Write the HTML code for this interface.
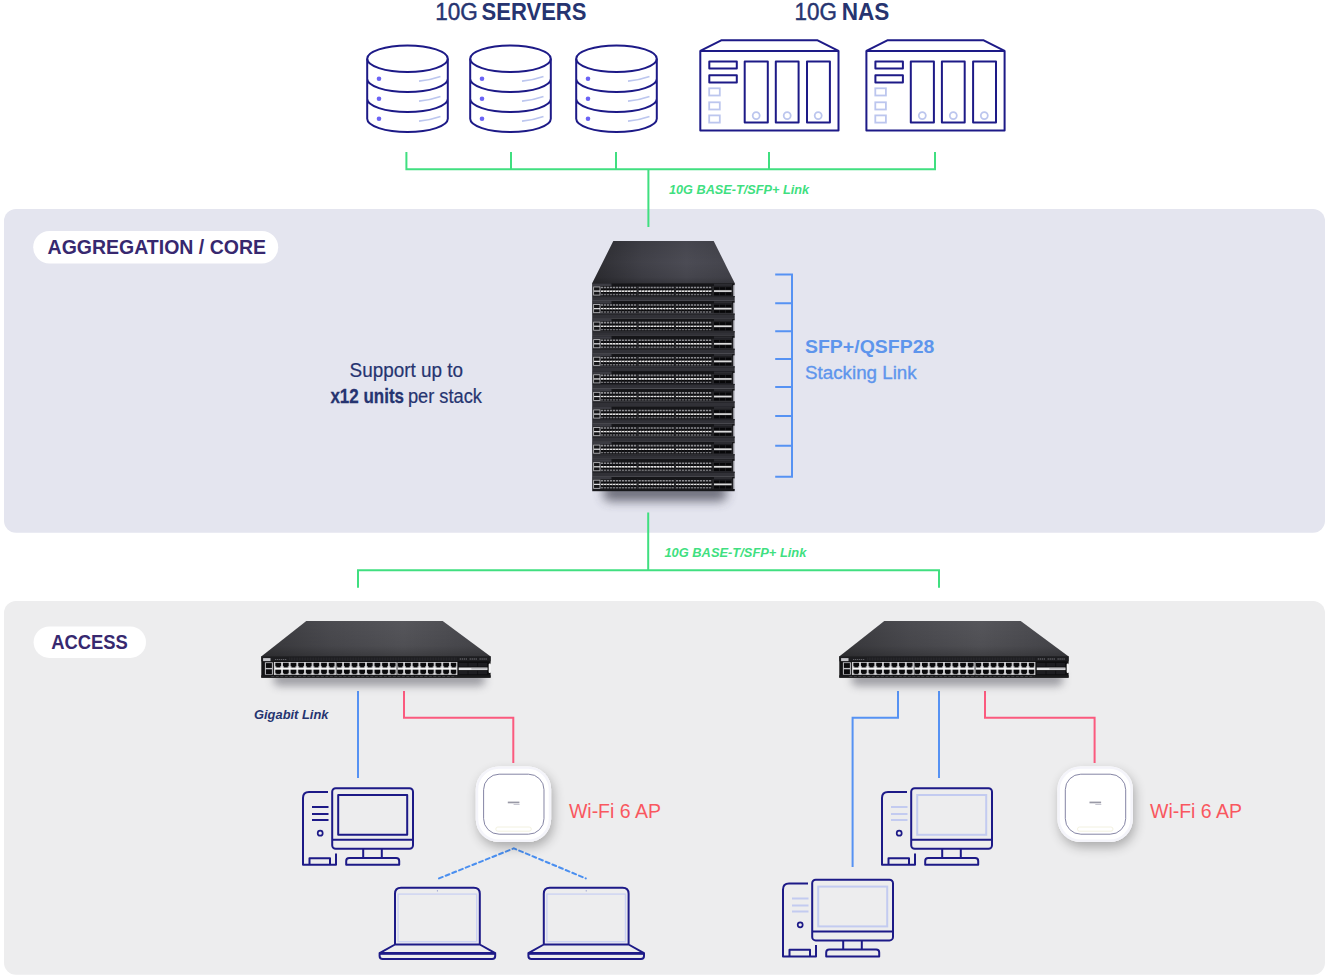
<!DOCTYPE html>
<html>
<head>
<meta charset="utf-8">
<title>Network topology</title>
<style>
  html, body { margin: 0; padding: 0; background: #ffffff; }
  body { width: 1330px; height: 980px; overflow: hidden; position: relative;
         font-family: "Liberation Sans", sans-serif; }
  svg { position: absolute; left: 0; top: 0; display: block; }
  text { font-family: "Liberation Sans", sans-serif; }
  .navy { fill: #263470; }
  .purple { fill: #37286f; }
  .med { stroke: #263470; stroke-width: 0.45; }
  .med2 { stroke: #263470; stroke-width: 0.2; }
  .green { fill: #40df80; }
  .blue { fill: #5e95ec; }
  .red { fill: #f9575f; }
  .ln { fill: none; stroke: #1d1a87; stroke-width: 2; stroke-linejoin: round; stroke-linecap: butt; }
  .lt { fill: none; stroke: #bcc6ee; stroke-width: 1.8; }
  .g { fill: none; stroke: #40df80; stroke-width: 2; }
  .b { fill: none; stroke: #5692f3; stroke-width: 2; }
  .r { fill: none; stroke: #fb5a7e; stroke-width: 2; }
</style>
</head>
<body>
<svg width="1330" height="980" viewBox="0 0 1330 980">
<defs>

<!-- server cylinder: origin at centre x, absolute y -->
<g id="srv">
  <ellipse class="ln" cx="0" cy="58.75" rx="40.3" ry="13.2"/>
  <path class="ln" d="M-40.3,58.75 V118.75 M40.3,58.75 V118.75
    M-40.3,78.75 A40.3 13.2 0 0 0 40.3,78.75
    M-40.3,98.75 A40.3 13.2 0 0 0 40.3,98.75
    M-40.3,118.75 A40.3 13.2 0 0 0 40.3,118.75"/>
  <circle cx="-28.5" cy="78.7" r="2.3" fill="#6b63f5"/>
  <circle cx="-28.5" cy="98.7" r="2.3" fill="#6b63f5"/>
  <circle cx="-28.5" cy="118.7" r="2.3" fill="#6b63f5"/>
  <path class="lt" d="M11.5,81.2 Q23,80 33,76.5 M11.5,101.2 Q23,100 33,96.5 M11.5,121.2 Q23,120 33,116.5"/>
</g>

<!-- NAS: origin at outer-left x, absolute y -->
<g id="nas">
  <path class="ln" d="M0.3,50.9 L21.2,40.3 H117.6 L138.5,50.9"/>
  <rect class="ln" x="0.3" y="50.9" width="138.2" height="79.5"/>
  <rect class="ln" x="9.3" y="61.4" width="27.5" height="7"/>
  <rect class="ln" x="9.3" y="75.2" width="27.5" height="7.3"/>
  <rect class="lt" x="9.2" y="88.3" width="10.6" height="7.2"/>
  <rect class="lt" x="9.2" y="102.3" width="10.6" height="7.2"/>
  <rect class="lt" x="9.2" y="115.4" width="10.6" height="7.2"/>
  <rect class="ln" x="44.7" y="61.4" width="23.1" height="61.1"/>
  <rect class="ln" x="75.8" y="61.4" width="22.8" height="61.1"/>
  <rect class="ln" x="107" y="61.4" width="22.9" height="61.1"/>
  <circle class="lt" cx="56.2" cy="115.6" r="3.5"/>
  <circle class="lt" cx="87.2" cy="115.6" r="3.5"/>
  <circle class="lt" cx="118.2" cy="115.6" r="3.5"/>
</g>

<!-- PC body (shared), origin at tower outer-left / monitor outer-top -->
<g id="pcbody">
  <rect class="ln" x="30.2" y="1" width="80.8" height="60.6" rx="3.5"/>
  <path class="ln" d="M30.2,52.6 H111 M61.2,61.6 V70.8 M79.8,61.6 V70.8
    M44.2,77.6 V73.8 Q44.2,70.8 47.2,70.8 H94.2 Q97.2,70.8 97.2,73.8 V77.6 Z
    M26,4.8 H7 Q1,4.8 1,10.8 V77.6 H34 V66.3
    M7.5,77.6 V71 H28 V77.6"/>
  <circle cx="18.2" cy="46" r="2.5" fill="none" stroke="#1d1a87" stroke-width="1.7"/>
</g>
<g id="pcdark">
  <use href="#pcbody"/>
  <rect class="ln" x="36.2" y="7.8" width="69" height="39.8"/>
  <path class="ln" d="M10,19.8 H26.5 M10,26.8 H26.5 M10,32.8 H26.5"/>
</g>
<g id="pclight">
  <use href="#pcbody"/>
  <rect x="36.2" y="7.8" width="69" height="39.8" fill="none" stroke="#c3cbf0" stroke-width="2"/>
  <path d="M10,19.8 H26.5 M10,26.8 H26.5 M10,32.8 H26.5" fill="none" stroke="#c3cbf0" stroke-width="2"/>
</g>

<!-- laptop: origin at screen outer top-left -->
<g id="lap">
  <rect x="4.1" y="7.3" width="78.6" height="47.6" fill="none" stroke="#ccd2f2" stroke-width="1.4"/>
  <path class="ln" d="M1,57.7 V7 Q1,1 7,1 H79.8 Q85.8,1 85.8,7 V57.7
    M1,57.7 H85.8 L101.2,66.4 H-14.4 Z
    M-14.4,66.4 V69.2 Q-14.4,72.2 -11.4,72.2 H98.2 Q101.2,72.2 101.2,69.2 V66.4"/>
  <path d="M-14.4,66.6 H101.2" stroke="#1d1a87" stroke-width="2.6"/>
  <circle cx="43.4" cy="4" r="0.6" fill="#8088c8"/>
</g>

<!-- AP: origin at outer top-left, 75x75 -->
<filter id="apsh" x="-40%" y="-40%" width="180%" height="190%">
  <feGaussianBlur in="SourceAlpha" stdDeviation="6"/>
  <feOffset dx="1.5" dy="4.5" result="o"/>
  <feComponentTransfer><feFuncA type="linear" slope="0.29"/></feComponentTransfer>
  <feMerge><feMergeNode/><feMergeNode in="SourceGraphic"/></feMerge>
</filter>
<g id="ap">
  <rect x="0" y="0" width="75.3" height="75.6" rx="23" fill="#ffffff" filter="url(#apsh)"/>
  <rect x="1.2" y="1.2" width="72.9" height="73.2" rx="22" fill="none" stroke="#f4f4fa" stroke-width="2.4"/>
  <rect x="7.8" y="7.8" width="60.4" height="60" rx="15.5" fill="#ffffff" stroke="#77779a" stroke-width="0.9"/>
  <rect x="32" y="35.2" width="11.6" height="1.7" fill="#55556a" opacity="0.6"/>
  <rect x="37.8" y="37.6" width="6" height="0.8" fill="#8a8aa0" opacity="0.6"/>
  <rect x="20" y="60.6" width="35.5" height="4.2" rx="2.1" fill="none" stroke="#f1efdc" stroke-width="0.9"/>
</g>

<!-- ===== stacked core switch ===== -->
<linearGradient id="stTopX" x1="0" x2="1" y1="0" y2="0">
  <stop offset="0" stop-color="#2e2e33"/><stop offset="0.35" stop-color="#42424a"/>
  <stop offset="0.66" stop-color="#4d4d56"/><stop offset="1" stop-color="#45454d"/>
</linearGradient>
<linearGradient id="stTopY" x1="0" x2="0" y1="0" y2="1">
  <stop offset="0" stop-color="#000" stop-opacity="0.10"/><stop offset="0.5" stop-color="#000" stop-opacity="0.02"/><stop offset="0.85" stop-color="#000" stop-opacity="0.10"/>
  <stop offset="1" stop-color="#000" stop-opacity="0.26"/>
</linearGradient>
<filter id="blur5" x="-30%" y="-200%" width="160%" height="500%"><feGaussianBlur stdDeviation="5.5"/></filter>
<filter id="blur4" x="-30%" y="-200%" width="160%" height="500%"><feGaussianBlur stdDeviation="4"/></filter>
<!-- one stack unit: y=0 is the bright port line; x absolute -->
<g id="lip">
  <rect x="592.2" y="5" width="142.5" height="4.7" fill="#313137"/>
  <rect x="592.2" y="5" width="142.5" height="1.1" fill="#232327"/>
</g>
<g id="unit">
  <rect x="592.2" y="-8" width="142.5" height="13.1" fill="#151518"/>
  <rect x="593" y="-7.6" width="18.5" height="2.6" fill="#3b3b42"/>
  <rect x="714" y="-7.4" width="18" height="2.2" fill="#2c2c31"/>
  <!-- mgmt port -->
  <rect x="593.6" y="-4.2" width="6.4" height="8.2" fill="none" stroke="#b9b9bd" stroke-width="0.9"/>
  <path d="M594,0 H600" stroke="#e6e6e8" stroke-width="1.2"/>
  <!-- upper / lower grey cage rows -->
  <path d="M601,-3.6 H637 M638.6,-3.6 H674.4 M676,-3.6 H712" stroke="#8c8c90" stroke-width="1.6" stroke-dasharray="2.2 0.8"/>
  <path d="M601,3.4 H637 M638.6,3.4 H674.4 M676,3.4 H712" stroke="#707074" stroke-width="1.4" stroke-dasharray="2.2 0.8"/>
  <!-- bright centre line -->
  <path d="M601,0 H637 M638.6,0 H674.4 M676,0 H712" stroke="#e4e3e3" stroke-width="1.7" stroke-dasharray="2.5 0.5"/>
  <path d="M601,-1.5 H637 M638.6,-1.5 H674.4 M676,-1.5 H712 M601,1.5 H637 M638.6,1.5 H674.4 M676,1.5 H712" stroke="#050506" stroke-width="1.1" stroke-dasharray="1.6 1.4"/>
    <rect x="713.6" y="-5" width="19" height="9.6" fill="#222226"/><path d="M714,-2.6 H731.6 M714,2.8 H731.6" stroke="#070709" stroke-width="2.6" stroke-dasharray="5.2 0.8"/><rect x="733.4" y="-6" width="1.4" height="11" fill="#dcdce6"/>
  <path d="M714,0 H731.6" stroke="#dcdcdc" stroke-width="1.7"/>
  <path d="M637.8,-5 V5 M675.2,-5 V5 M713,-5 V5" stroke="#3a3a3e" stroke-width="0.8"/>
</g>

<!-- ===== 1U access switch, origin = left/top of bounding box ===== -->
<linearGradient id="swTopX" x1="0" x2="1" y1="0" y2="0">
  <stop offset="0" stop-color="#3b3b3f"/><stop offset="0.3" stop-color="#4b4b50"/>
  <stop offset="0.62" stop-color="#56565b"/><stop offset="1" stop-color="#47474c"/>
</linearGradient>
<linearGradient id="swTopY" x1="0" x2="0" y1="0" y2="1">
  <stop offset="0" stop-color="#000" stop-opacity="0"/><stop offset="0.7" stop-color="#000" stop-opacity="0.08"/>
  <stop offset="1" stop-color="#000" stop-opacity="0.27"/>
</linearGradient>
<pattern id="rj" x="13.1" y="40.9" width="7.63" height="12.9" patternUnits="userSpaceOnUse">
  <rect width="7.63" height="12.9" fill="#d4d4d7"/>
  <rect x="0" y="5.5" width="7.63" height="2" fill="#fafafa"/>
  <path d="M0.9,0.7 H6.75 V4 H6.1 V5.4 H1.55 V4 H0.9 Z" fill="#09090b"/>
  <path d="M0.9,7.6 H6.75 V10.9 H6.1 V12.2 H1.55 V10.9 H0.9 Z" fill="#09090b"/>
</pattern>
<g id="sw">
  <rect x="12" y="51" width="212" height="14" rx="6" fill="#50505a" opacity="0.5" filter="url(#blur4)"/>
  <polygon points="45,0 181.4,0 229.3,35.4 0,35.4" fill="url(#swTopX)"/>
  <polygon points="45,0 181.4,0 229.3,35.4 0,35.4" fill="url(#swTopY)"/>
  <rect x="0" y="35.2" width="229.3" height="21.4" fill="#131315"/>
  <rect x="0" y="35.2" width="229.3" height="5" fill="#1d1d20"/>
  <path d="M28,37.8 H196" stroke="#2b2b2f" stroke-width="3" stroke-dasharray="0.8 0.8"/>
  <rect x="1.8" y="37" width="7.4" height="3" fill="#c6c6ca"/>
  <path d="M14,38.4 H25" stroke="#8b8b90" stroke-width="0.9" stroke-dasharray="0.9 1.1"/>
  <!-- mgmt ports -->
  <rect x="3.6" y="41.2" width="8" height="12.4" fill="#bfbfc3"/>
  <rect x="4.6" y="42" width="6" height="4.8" fill="#0b0b0d"/><rect x="4.6" y="48.2" width="6" height="4.8" fill="#0b0b0d"/>
  <!-- 3 x 16 RJ45 -->
  <rect x="13.1" y="40.9" width="61.2" height="12.9" fill="url(#rj)"/>
  <rect x="75.2" y="40.9" width="59.8" height="12.9" fill="url(#rj)"/>
  <rect x="136.3" y="40.9" width="59.4" height="12.9" fill="url(#rj)"/>
  <path d="M13.1,40.9 V53.8 M74.5,40.9 V53.8 M135.6,40.9 V53.8 M195.6,40.9 V53.8" stroke="#d8d8da" stroke-width="1"/>
  <!-- SFP block -->
  <rect x="196.6" y="40.6" width="30.4" height="13.6" fill="#0e0e10"/>
  <path d="M197.4,43.6 H226.4 M197.4,51.4 H226.4" stroke="#1d1d21" stroke-width="3.6" stroke-dasharray="8.9 0.8"/>
  <rect x="197.4" y="46.4" width="28.8" height="2.6" fill="#e6e6e8"/><rect x="210" y="47.1" width="15.5" height="1.2" fill="#9a9a9e" opacity="0.7"/>
  <path d="M198.4,38 H226" stroke="#5a5a60" stroke-width="1.5" stroke-dasharray="1.3 0.7 1.3 0.7 1.3 0.7 1.3 2.6"/>
  <rect x="227.4" y="42.5" width="2.3" height="9.5" rx="1" fill="#f4f4f5"/>
  <rect x="0" y="54.2" width="229.3" height="2.4" fill="#1a1a1c"/>
  <path d="M10,55.4 H195" stroke="#45454a" stroke-width="0.8" stroke-dasharray="3 1.5"/>
</g>
<!--DEFS-->
</defs>

<!-- panels -->
<rect x="4" y="209" width="1321" height="323.7" rx="12" fill="#e4e5ef"/>
<rect x="4" y="601" width="1321" height="373.8" rx="12" fill="#ededee"/>

<!-- pills -->
<rect x="33.2" y="230.9" width="245" height="32.5" rx="16.25" fill="#ffffff"/>
<rect x="33.6" y="626.4" width="112.4" height="31.6" rx="15.8" fill="#ffffff"/>

<!-- green links -->
<path class="g" d="M406.4,152 V169.3 H935 V152 M511,152 V169.3 M616,152 V169.3 M769,152 V169.3 M648.4,169.3 V227"/>
<path class="g" d="M648.2,512.4 V570.3 M358,587.8 V570.3 H939 V587.8"/>

<!-- stacking bracket -->
<path class="b" d="M775.2,274.5 H792 V476.7 H775.2 M775.2,303.3 H792 M775.2,331.2 H792 M775.2,359.1 H792 M775.2,387 H792 M775.2,415.9 H792 M775.2,445.8 H792"/>

<!-- access links -->
<path class="b" d="M358,691 V778"/>
<path class="r" d="M404,691 V717.7 H513.3 V763"/>
<path class="b" d="M898,691 V717.7 H852.6 V867"/>
<path class="b" d="M939,691 V778"/>
<path class="r" d="M985,691 V717.7 H1094.6 V763"/>
<path d="M439,878.4 L513.8,848.4 L585.8,878.4" stroke-linecap="round" fill="none" stroke="#4a8ff0" stroke-width="2" stroke-dasharray="4 3.2"/>


<!-- servers -->
<use href="#srv" x="407.5"/>
<use href="#srv" x="510.5"/>
<use href="#srv" x="616.5"/>
<!-- NAS -->
<use href="#nas" x="700"/>
<use href="#nas" x="866.1"/>
<!-- PCs -->
<use href="#pcdark" x="302" y="787.2"/>
<use href="#pclight" x="881" y="787.2"/>
<use href="#pclight" x="782" y="878.8"/>
<!-- laptops -->
<use href="#lap" x="394" y="886.8"/>
<use href="#lap" x="542.8" y="886.8"/>
<!-- APs -->
<use href="#ap" x="475.8" y="766.4"/>
<use href="#ap" x="1057.5" y="766.4"/>

<!-- core stack -->
<rect x="603" y="484" width="124" height="17" rx="7" fill="#3c3c4c" opacity="0.72" filter="url(#blur5)"/>
<polygon points="613.3,241 713.7,241 734.9,283.6 592.1,283.6" fill="url(#stTopX)"/>
<polygon points="613.3,241 713.7,241 734.9,283.6 592.1,283.6" fill="url(#stTopY)"/>
<g>
  <use href="#unit" y="291.1"/><use href="#unit" y="308.67"/><use href="#unit" y="326.24"/>
  <use href="#unit" y="343.81"/><use href="#unit" y="361.38"/><use href="#unit" y="378.95"/>
  <use href="#unit" y="396.52"/><use href="#unit" y="414.09"/><use href="#unit" y="431.66"/>
  <use href="#unit" y="449.23"/><use href="#unit" y="466.8"/><use href="#unit" y="484.37"/>
</g>
<g>
  <use href="#lip" y="291.1"/><use href="#lip" y="308.67"/><use href="#lip" y="326.24"/>
  <use href="#lip" y="343.81"/><use href="#lip" y="361.38"/><use href="#lip" y="378.95"/>
  <use href="#lip" y="396.52"/><use href="#lip" y="414.09"/><use href="#lip" y="431.66"/>
  <use href="#lip" y="449.23"/><use href="#lip" y="466.8"/>
</g>
<rect x="592.2" y="489" width="142.5" height="2.2" fill="#17171a"/>
<path d="M592.6,283.4 V491" stroke="#4c4c54" stroke-width="0.8"/>
<!-- access switches -->
<use href="#sw" x="261.3" y="621.1"/>
<use href="#sw" x="839.3" y="621.1"/>



<!-- text -->
<g font-size="23.1">
  <text class="navy med" x="435.2" y="19.5" textLength="42.6" lengthAdjust="spacingAndGlyphs">10G</text>
  <text class="navy" x="481.6" y="19.5" font-weight="bold" textLength="104.8" lengthAdjust="spacingAndGlyphs">SERVERS</text>
  <text class="navy med" x="794.5" y="19.5" textLength="42.3" lengthAdjust="spacingAndGlyphs">10G</text>
  <text class="navy" x="841.8" y="19.5" font-weight="bold" textLength="47.6" lengthAdjust="spacingAndGlyphs">NAS</text>
</g>
<text class="purple" x="47.6" y="253.9" font-size="20" font-weight="bold" textLength="218.4" lengthAdjust="spacingAndGlyphs">AGGREGATION / CORE</text>
<text class="purple" x="51.2" y="648.6" font-size="20" font-weight="bold" textLength="76.6" lengthAdjust="spacingAndGlyphs">ACCESS</text>

<text class="navy med2" x="349.6" y="377" font-size="20" textLength="113.5" lengthAdjust="spacingAndGlyphs">Support up to</text>
<text class="navy" stroke="#263470" stroke-width="0.3" x="330.4" y="403.2" font-size="20" font-weight="bold" textLength="73.6" lengthAdjust="spacingAndGlyphs">x12 units</text>
<text class="navy med2" x="407.9" y="403.2" font-size="20" textLength="74.1" lengthAdjust="spacingAndGlyphs">per stack</text>

<text class="blue" x="805" y="352.8" font-size="19.1" font-weight="bold" textLength="129.3" lengthAdjust="spacingAndGlyphs">SFP+/QSFP28</text>
<text class="blue" stroke="#5e95ec" stroke-width="0.35" x="805" y="379.2" font-size="19.1" textLength="111.7" lengthAdjust="spacingAndGlyphs">Stacking Link</text>

<text class="green" x="669" y="193.6" font-size="13.3" font-weight="bold" font-style="italic" textLength="140" lengthAdjust="spacingAndGlyphs">10G BASE-T/SFP+ Link</text>
<text class="green" x="664.4" y="557" font-size="13.3" font-weight="bold" font-style="italic" textLength="142" lengthAdjust="spacingAndGlyphs">10G BASE-T/SFP+ Link</text>
<text class="navy" x="254" y="718.9" font-size="13.4" font-weight="bold" font-style="italic" textLength="74.5" lengthAdjust="spacingAndGlyphs">Gigabit Link</text>

<text class="red" x="568.9" y="817.6" font-size="19.6" textLength="92.1" lengthAdjust="spacingAndGlyphs">Wi-Fi 6 AP</text>
<text class="red" x="1150" y="817.6" font-size="19.6" textLength="92" lengthAdjust="spacingAndGlyphs">Wi-Fi 6 AP</text>
</svg>
</body>
</html>
